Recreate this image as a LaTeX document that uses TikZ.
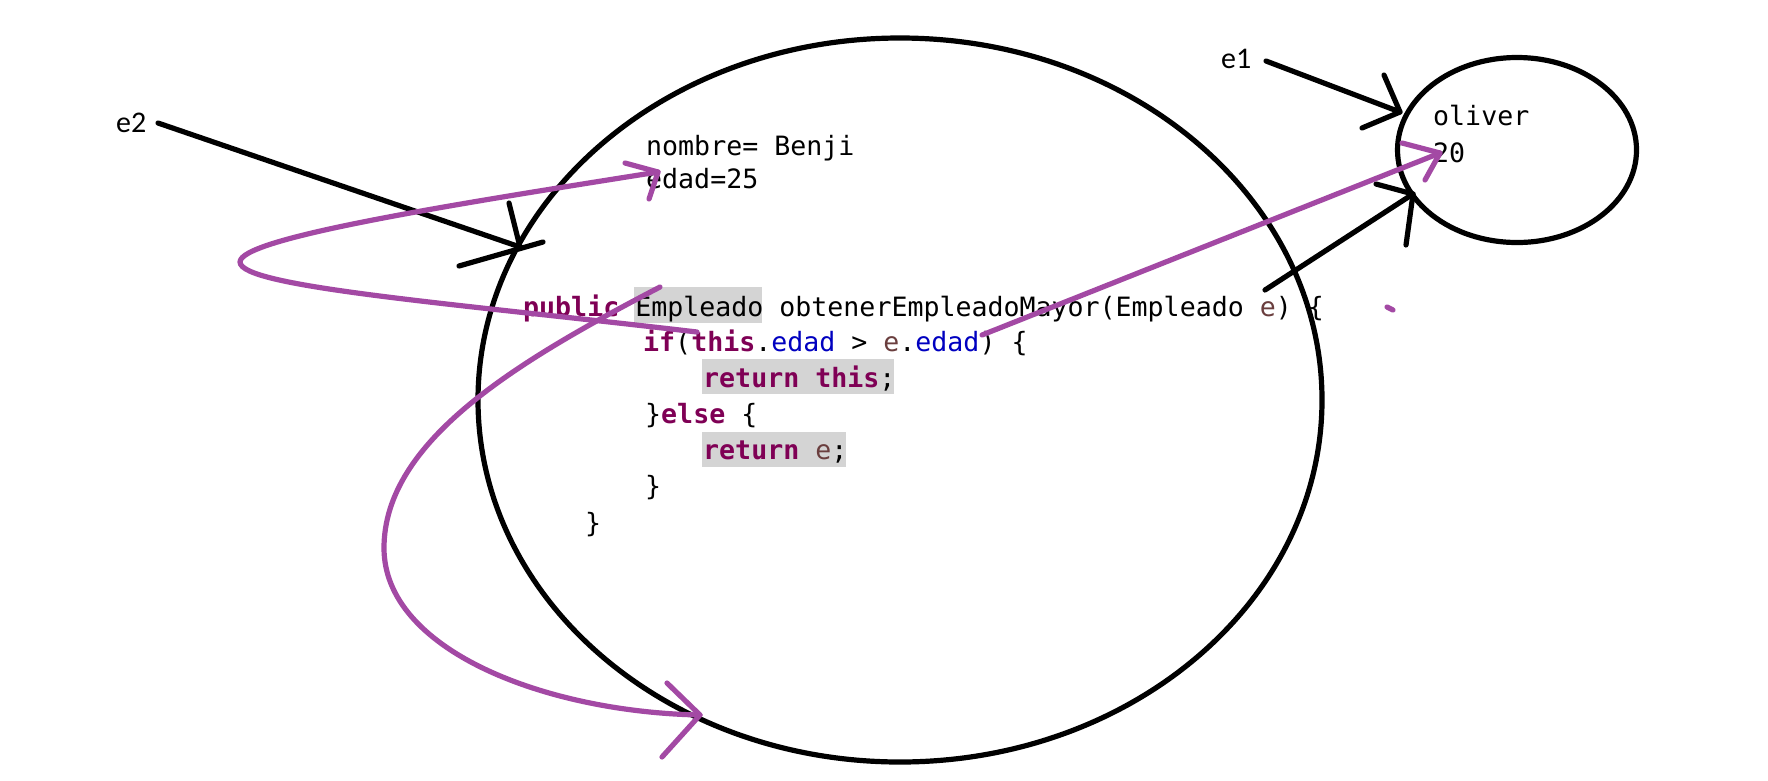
\documentclass[tikz,border=0pt]{standalone}
\usepackage{fontspec}
\usetikzlibrary{shapes.geometric}
\newfontfamily\codefont{DejaVu Sans Mono}
\newfontfamily\labelfont{Carlito}
\definecolor{kw}{HTML}{7F0055}
\definecolor{fld}{HTML}{0000C0}
\definecolor{par}{HTML}{6A3E3E}
\definecolor{hl}{HTML}{D4D4D4}
\definecolor{pen}{HTML}{A349A4}
\newcommand{\kw}[1]{{\color{kw}\bfseries #1}}
\newcommand{\fld}[1]{{\color{fld}#1}}
\newcommand{\prm}[1]{{\color{par}#1}}
\begin{document}
\begin{tikzpicture}[x=1pt,y=-1pt, line cap=round, line join=round,
  ink/.style={draw=black, line width=5.2pt},
  marker/.style={draw=pen, line width=5.2pt},
  code/.style={font=\codefont\fontsize{26.6}{32}\selectfont, inner sep=0pt, anchor=base west},
  lbl/.style={font=\labelfont\fontsize{30}{34}\selectfont, inner sep=0pt, anchor=base west},
  blob/.style={ellipse, draw=black, line width=5.2pt, inner sep=0pt, outer sep=0pt}]

\useasboundingbox[fill=white] (0,0) rectangle (1768,780);

% objects
\node[blob, minimum width=844pt, minimum height=724pt] (big) at (900,400) {};
\node[blob, minimum width=239pt, minimum height=185pt] (small) at (1517,150) {};

% highlights
\fill[hl] (634,287) rectangle (762,323);
\fill[hl] (702,359) rectangle (894,394);
\fill[hl] (702,432) rectangle (846,467);

% texts
\node[code] (nombre) at (646,155) {nombre= Benji};
\node[code] (edad) at (646,188) {edad=25};
\node[code] (oliver) at (1433,125) {oliver};
\node[code] (veinte) at (1433,162) {20};
\node[lbl] (e1) at (1221,68) {e1};
\node[lbl] (e2) at (116,132) {e2};

\node[code] (l1) at (523,316) {\kw{public} Empleado obtenerEmpleadoMayor(Empleado \prm{e}) \{};
\node[code] (l2) at (643,351) {\kw{if}(\kw{this}.\fld{edad} > \prm{e}.\fld{edad}) \{};
\node[code] (l3) at (703,387) {\kw{return} \kw{this};};
\node[code] (l4) at (645,423) {\}\kw{else} \{};
\node[code] (l5) at (703,459) {\kw{return} \prm{e};};
\node[code] (l6) at (645,495) {\}};
\node[code] (l7) at (585,532) {\}};

% black arrows
\coordinate (e2s) at (158,123);
\coordinate (e2t) at (520,247);
\draw[ink] (e2s) -- (e2t);
\draw[ink] (509,203) -- (e2t);
\draw[ink] (459,266) -- (543,242);

\coordinate (e1s) at (1266,61);
\coordinate (e1t) at (1400,112);
\draw[ink] (e1s) -- (e1t);
\draw[ink] (1384,75) -- (e1t) -- (1362,128);

\coordinate (rs) at (1265,290);
\coordinate (rt) at (1413,194);
\draw[ink] (rs) -- (rt);
\draw[ink] (1376,184) -- (rt) -- (1406,245);

% purple marks
\coordinate (p1s) at (697,332);
\coordinate (p1m) at (240,262);
\coordinate (p1t) at (658,172);
\draw[marker] (p1s) .. controls (450,303) and (240,287) .. (p1m)
  .. controls (240,238) and (450,205) .. (p1t);
\draw[marker] (625,163) -- (p1t) -- (649,199);

\coordinate (p2s) at (982,335);
\coordinate (p2t) at (1440,153);
\draw[marker] (p2s) -- (p2t);
\draw[marker] (1402,143) -- (p2t) -- (1425,180);

\coordinate (p3s) at (660,287);
\coordinate (p3m) at (384,548);
\coordinate (p3t) at (700,715);
\draw[marker] (p3s) .. controls (520,360) and (384,440) .. (p3m)
  .. controls (384,650) and (545,712) .. (p3t);
\draw[marker] (667,683) -- (p3t) -- (662,757);

\draw[marker] (1387,307) -- (1393,310);
\end{tikzpicture}
\end{document}
